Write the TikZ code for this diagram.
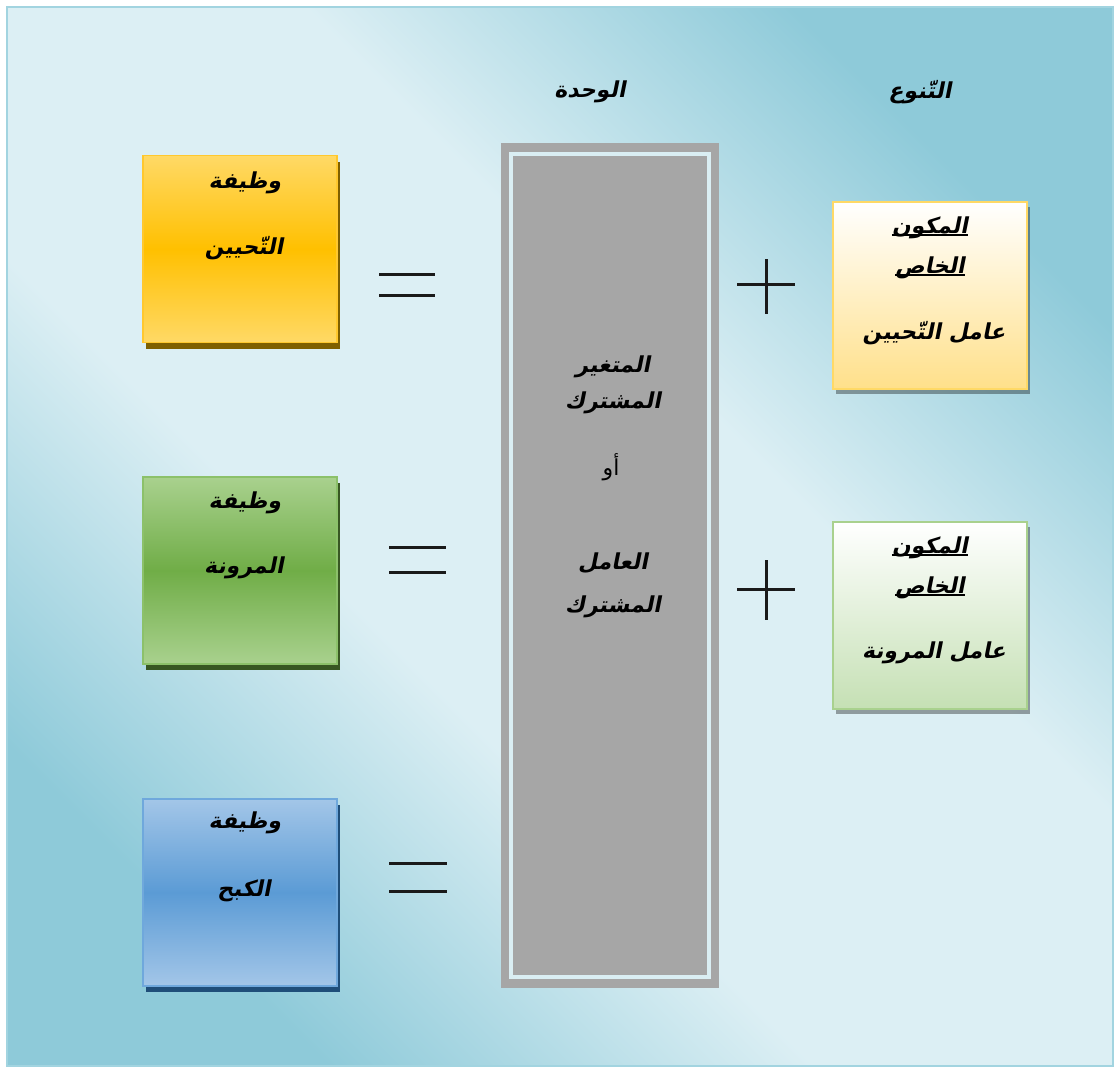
\documentclass[tikz,border=0pt]{standalone}
\usepackage{fontspec}
\usetikzlibrary{calc,shadows}
\TeXXeTstate=1
\newfontfamily\arfont[Script=Arabic,FakeSlant=0.2]{DejaVu Sans Bold}
\newfontfamily\arplain[Script=Arabic]{DejaVu Sans}

\definecolor{bgdark}{HTML}{8ECAD9}
\definecolor{bglight}{HTML}{DCEFF4}
\definecolor{bgedge}{HTML}{A2D4E0}
\definecolor{orlight}{HTML}{FFD966}
\definecolor{ormid}{HTML}{FFC000}
\definecolor{oredge}{HTML}{FFC82E}
\definecolor{orshadow}{HTML}{7F6000}
\definecolor{grlight}{HTML}{A9D18E}
\definecolor{grmid}{HTML}{70AD47}
\definecolor{gredge}{HTML}{8CC16A}
\definecolor{grshadow}{HTML}{385723}
\definecolor{bllight}{HTML}{A3C6E8}
\definecolor{blmid}{HTML}{5B9BD5}
\definecolor{bledge}{HTML}{6FA8DC}
\definecolor{blshadow}{HTML}{1F4E79}
\definecolor{paleyellow}{HTML}{FFE08A}
\definecolor{paleyedge}{HTML}{FFD966}
\definecolor{palegreen}{HTML}{C5E0B4}
\definecolor{palegedge}{HTML}{A9D18E}
\definecolor{unitgray}{HTML}{A6A6A6}
\definecolor{unitline}{HTML}{DAEEF3}
\definecolor{ink}{HTML}{1A1A1A}

% panel tint: dark towards two opposite corners, a broad light band between them
\pgfdeclareverticalshading{panelshade}{100bp}{%
  color(0bp)=(bgdark); color(25bp)=(bgdark); color(41bp)=(bglight);
  color(59bp)=(bglight); color(75bp)=(bgdark); color(100bp)=(bgdark)}

\tikzset{
  fnbox/.style={minimum width=194pt, minimum height=187pt, inner sep=0,
    shading=axis, line width=1.2pt},
  orbox/.style={fnbox, draw=oredge, top color=orlight, bottom color=orlight, middle color=ormid,
    drop shadow={shadow xshift=3pt, shadow yshift=-6pt, fill=orshadow, opacity=1}},
  grbox/.style={fnbox, draw=gredge, top color=grlight, bottom color=grlight, middle color=grmid,
    drop shadow={shadow xshift=3pt, shadow yshift=-6pt, fill=grshadow, opacity=1}},
  blbox/.style={fnbox, draw=bledge, top color=bllight, bottom color=bllight, middle color=blmid,
    drop shadow={shadow xshift=3pt, shadow yshift=-6pt, fill=blshadow, opacity=1}},
  yebox/.style={fnbox, draw=paleyedge, top color=white, bottom color=paleyellow,
    drop shadow={shadow xshift=3pt, shadow yshift=-5pt, fill=black, opacity=0.35}},
  lgbox/.style={fnbox, draw=palegedge, top color=white, bottom color=palegreen,
    drop shadow={shadow xshift=3pt, shadow yshift=-5pt, fill=black, opacity=0.35}},
  ar/.style={font=\arfont\fontsize{22}{26}\selectfont, inner sep=0, text=black},
  arp/.style={font=\arplain\fontsize{22}{26}\selectfont, inner sep=0, text=black},
  sign/.style={draw=ink, line width=3pt},
  ul/.style={draw=black, line width=2.2pt}
}

\begin{document}
\begin{tikzpicture}[x=1pt,y=-1pt]
  % page and tinted panel
  \useasboundingbox (0,0) rectangle (1115,1068);
  \fill[white] (0,0) rectangle (1115,1068);
  \shade[shading=panelshade, shading angle=-45] (7,7) rectangle (1113,1066);
  \draw[bgedge, line width=1.5pt] (7,7) rectangle (1113,1066);

  % column headings
  \node[ar] (hunity) at (590,92) {\beginR الوحدة\endR};
  \node[ar] (hdiv)   at (920,92) {\beginR التّنوع\endR};

  % the three functions
  \node[orbox] (fdet)  at (240,249)   {};
  \node[grbox] (fflex) at (240,570.5) {};
  \node[blbox] (finh)  at (240,892.5) {};

  \node[ar] (fdet1)  at (245,183) {\beginR وظيفة\endR};
  \node[ar] (fdet2)  at (244,248) {\beginR التّحيين\endR};
  \node[ar] (fflex1) at (245,503) {\beginR وظيفة\endR};
  \node[ar] (fflex2) at (244,568) {\beginR المرونة\endR};
  \node[ar] (finh1)  at (245,823) {\beginR وظيفة\endR};
  \node[ar] (finh2)  at (244,891) {\beginR الكبح\endR};

  % common component column
  \node[fill=unitgray, minimum width=218pt, minimum height=845pt, inner sep=0] (unity) at (610,565.5) {};
  \draw[unitline, line width=4pt]
    ($(unity.north west)+(10,11)$) rectangle ($(unity.south east)+(-10,-11)$);

  \node[ar]  (cvar1) at (613,367) {\beginR المتغير\endR};
  \node[ar]  (cvar2) at (613,403) {\beginR المشترك\endR};
  \node[arp] (cor)   at (611,467) {\beginR أو\endR};
  \node[ar]  (cfac1) at (613,563) {\beginR العامل\endR};
  \node[ar]  (cfac2) at (613,607) {\beginR المشترك\endR};

  % specific components
  \node[yebox] (sdet)  at (930,295.5) {};
  \node[lgbox] (sflex) at (930,615.5) {};

  \node[ar] (sdet1) at (930,228) {\beginR المكون\endR};
  \node[ar] (sdet2) at (930,268) {\beginR الخاص\endR};
  \node[ar] (sdet3) at (934,333) {\beginR عامل التّحيين\endR};
  \draw[ul] ([yshift=4]sdet1.south west) -- ([yshift=4]sdet1.south east);
  \draw[ul] ([yshift=4]sdet2.south west) -- ([yshift=4]sdet2.south east);

  \node[ar] (sflex1) at (930,548) {\beginR المكون\endR};
  \node[ar] (sflex2) at (930,588) {\beginR الخاص\endR};
  \node[ar] (sflex3) at (934,653) {\beginR عامل المرونة\endR};
  \draw[ul] ([yshift=4]sflex1.south west) -- ([yshift=4]sflex1.south east);
  \draw[ul] ([yshift=4]sflex2.south west) -- ([yshift=4]sflex2.south east);

  % equals signs
  \draw[sign] (379,274) -- (435,274);
  \draw[sign] (379,295) -- (435,295);
  \draw[sign] (389,547) -- (446,547);
  \draw[sign] (389,572) -- (446,572);
  \draw[sign] (389,863) -- (447,863);
  \draw[sign] (389,891) -- (447,891);

  % plus signs
  \draw[sign] (737,284) -- (795,284);
  \draw[sign] (766,259) -- (766,314);
  \draw[sign] (737,589) -- (795,589);
  \draw[sign] (766,560) -- (766,620);
\end{tikzpicture}
\end{document}
